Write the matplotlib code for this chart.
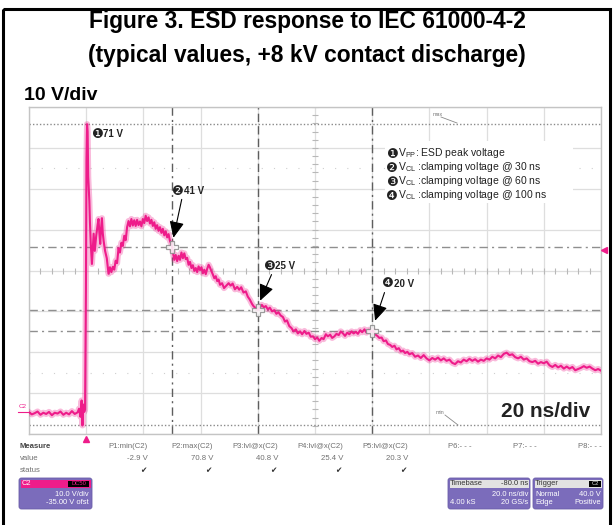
import numpy as np
import matplotlib
matplotlib.use("Agg")
import matplotlib.pyplot as plt
from matplotlib.patches import Rectangle, FancyBboxPatch

plt.rcParams["font.family"] = ["Liberation Sans", "DejaVu Sans"]
plt.rcParams["mathtext.fontset"] = "custom"
plt.rcParams["mathtext.rm"] = "Liberation Sans"

# scope screen: 20 ns/div, 10 V/div, offset -35 V
t_range = (-20, 180)
v_range = (-5, 75)

# ESD waveform (ns, V)
t_ns = [-20, -19, -18, -17, -16, -15, -14, -13, -12, -11, -10, -9, -8, -7, -6, -5, -4, -3,
        -2.5, -2.0, -1.6, -1.3, -1.0, -0.7, -0.4,
        -0.1, 0.1, 0.3, 0.5, 0.7, 0.9, 1.1, 1.3,
        1.6, 2.0, 2.3, 2.6, 3.0, 3.5, 4.0, 4.3, 4.6, 4.9, 5.2, 5.5, 5.8, 6.1, 6.6, 7.2, 7.8,
        8.3, 8.8, 9.3, 9.8, 10.3, 10.8, 11.3, 11.8, 12.3, 12.8, 13.3, 13.8, 14.3, 14.8,
        15.3, 15.8, 16.3, 16.8, 17.3, 17.8, 18.3, 18.8, 19.3, 19.8, 20.3, 20.8, 21.3, 21.8,
        22.3, 22.8, 23.3, 23.8, 24.3, 24.8, 25.3, 25.8, 26.3, 26.8, 27.3, 27.8, 28.3, 28.8,
        29.3, 29.8, 30.3, 30.8, 31.3, 31.8, 32.3, 32.8, 33.3, 33.8, 34.3, 34.8, 35.3, 35.8,
        36.3, 36.8, 37.3, 37.8, 38.3, 38.8, 39.3, 39.8, 40.3, 40.8, 41.3, 41.8, 42.3, 42.8,
        43.3, 43.8, 44.3, 44.8, 45.3, 45.8, 46.3, 46.8, 47.5, 48.2, 49.0, 49.8, 50.5, 51.2,
        52.0, 52.8, 53.5, 54.2, 55.0, 55.8, 56.5, 57.2, 58.0, 58.6, 59.3, 60.0, 60.7, 61.4,
        62.1, 62.8, 63.5, 64.2, 65.0, 65.8, 66.5, 67.2, 68.0, 68.8, 69.5, 70.2, 71.0, 71.8,
        72.5, 73.3, 74.0, 74.8, 75.5, 76.3, 77.0, 77.8, 78.5, 79.3, 80.0, 80.8, 81.5, 82.3,
        83.0, 83.8, 84.5, 85.3, 86.0, 86.8, 87.5, 88.3, 89.0, 89.8, 90.5, 91.3, 92.0, 92.8,
        93.5, 94.3, 95.0, 95.8, 96.5, 97.3, 98.0, 98.8, 99.5, 100.3, 101.0, 101.8, 102.5,
        103.3, 104.0, 104.8, 105.5, 106.3, 107.0, 107.8, 108.5, 109.3, 110.0, 110.8, 111.5,
        112.3, 113.0, 114, 115, 116, 117, 118, 119, 120, 121, 122, 123, 124, 125, 126, 127,
        128, 129, 130, 131, 132, 133, 134, 135, 136, 137, 138, 139, 140, 141, 142, 143, 144,
        145, 146, 147, 148, 149, 150, 151, 152, 153, 154, 155, 156, 157, 158, 159, 160, 161,
        162, 163, 164, 165, 166, 167, 168, 169, 170, 171, 172, 173, 174, 175, 176, 177, 178,
        179, 180]
v_trace = [0.3, -0.2, 0.1, 0.5, -0.3, 0.2, -0.1, 0.4, -0.4, 0.2, 0.0, 0.5, -0.3, 0.2, -0.2, 0.6, -0.1, 0.3,
           1.2, -0.8, 3.2, -2.9, 2.2, 0.4, 1.0,
           30.0, 62.0, 70.8, 69.0, 58.0, 55.0, 52.0, 47.0,
           41.5, 36.6, 40.5, 44.0, 39.8, 43.5, 46.2, 47.6, 44.2, 41.5, 45.3, 47.8, 44.1, 42.2, 39.8, 38.0, 34.2,
           35.8, 34.6, 35.9, 35.2, 37.4, 36.8, 40.5, 39.4, 41.8, 41.0, 43.5, 42.4, 45.6, 47.1,
           45.8, 47.6, 46.0, 47.3, 45.9, 47.4, 46.1, 47.0, 45.8, 47.6, 46.6, 48.4, 47.1, 48.0,
           46.5, 47.4, 45.9, 46.8, 45.2, 46.1, 44.7, 45.6, 44.2, 45.2, 43.6, 44.6, 43.1, 43.9,
           42.2, 41.5, 39.6, 37.6, 38.8, 37.3, 38.6, 37.6, 39.4, 38.0, 39.2, 37.8, 38.1, 36.4,
           37.1, 35.6, 36.3, 34.9, 35.6, 34.6, 36.0, 35.1, 35.8, 34.3, 35.2, 34.1, 35.4, 36.4,
           35.7, 34.8, 34.0, 33.1, 33.6, 32.4, 32.8, 31.5, 31.9, 30.7, 31.3, 31.9, 31.3, 31.8,
           30.4, 31.0, 30.3, 30.9, 29.6, 29.9, 28.6, 27.9, 26.8, 26.2, 25.8, 25.4, 25.9, 26.6,
           26.0, 26.3, 25.5, 25.9, 25.0, 25.3, 24.4, 24.8, 24.0, 23.6, 22.5, 22.8, 21.4, 20.9,
           20.1, 20.6, 19.6, 20.1, 19.4, 20.2, 19.5, 19.8, 18.8, 18.9, 18.2, 18.6, 17.8, 18.5,
           18.2, 19.4, 18.9, 19.3, 18.5, 18.9, 19.5, 19.2, 20.1, 19.6, 19.0, 19.8, 19.4, 20.1,
           19.6, 20.0, 19.5, 20.4, 19.9, 20.6, 19.8, 20.5, 20.0, 20.3, 19.4, 19.0, 18.5,
           18.6, 17.7, 17.9, 17.0, 16.8, 16.3, 16.6, 15.7, 16.0, 15.2, 15.4, 14.8,
           15.1, 14.5, 14.8, 13.9, 14.2, 13.6, 14.3, 13.5, 13.0, 13.6, 13.2, 13.7, 13.0, 13.5, 12.9, 13.2,
           12.4, 12.1, 12.8, 12.5, 13.2, 12.8, 13.4, 12.9, 13.3, 12.7, 13.2, 12.9, 13.5, 13.2, 13.9, 13.5, 14.2,
           13.8, 14.6, 14.9, 14.3, 14.5, 13.8, 13.5, 13.9, 13.2, 13.5, 12.8, 12.6, 12.9, 12.2, 12.6, 12.3, 12.7,
           11.8, 11.4, 11.9, 11.3, 11.7, 11.0, 11.5, 11.0, 11.4, 10.6, 10.9, 11.2, 11.6, 11.2, 11.5, 11.0, 10.6,
           10.9, 10.5]

# measurements P1..P5
v_min, v_max = -2.9, 70.8
cursor_t = [30, 60, 100]
cursor_v = [40.8, 25.4, 20.3]
point_marks = ["\u2776", "\u2777", "\u2778", "\u2779"]
point_labels = ["71 V", "41 V", "25 V", "20 V"]
trig_level = 40.0

meas_headers = ["P1:min(C2)", "P2:max(C2)", "P3:lvl@x(C2)", "P4:lvl@x(C2)", "P5:lvl@x(C2)"]
meas_values = ["-2.9 V", "70.8 V", "40.8 V", "25.4 V", "20.3 V"]

legend_lines = ["V$_{\\rm PP}$: ESD peak voltage",
                "V$_{\\rm CL}$ :clamping voltage @ 30 ns",
                "V$_{\\rm CL}$ :clamping voltage @ 60 ns",
                "V$_{\\rm CL}$ :clamping voltage @ 100 ns"]

PINK = "#ee1c8a"
PURPLE = "#7b6cbb"
GRID = "#dedede"

fig = plt.figure(figsize=(6.14, 5.25), dpi=100)
W, H = 614, 525

# ---- scope screen ----
ax = fig.add_axes([29 / W, (H - 434) / H, 572 / W, 327 / H], zorder=1)
ax.set_xlim(*t_range)
ax.set_ylim(*v_range)
ax.set_xticks(np.arange(-20, 181, 20))
ax.set_yticks(np.arange(-5, 76, 10))
ax.grid(True, color=GRID, lw=0.9)
ax.tick_params(length=0, labelbottom=False, labelleft=False)
for s in ax.spines.values():
    s.set_color("#c4c4c4")
    s.set_linewidth(1.0)

# centre graticule ticks
yt = np.arange(-5, 75.1, 2)
ax.plot(np.full(len(yt), 80), yt, ls="none", marker="_", ms=5, mew=0.8, color="#b8b8b8")
xt = np.arange(-20, 180.1, 4)
ax.plot(xt, np.full(len(xt), 35), ls="none", marker="|", ms=5, mew=0.8, color="#b8b8b8")
for lvl in (60, 10):
    ax.axhline(lvl, color="#cfcfcf", lw=0.8, ls=(0, (1, 10)))

# min / max dotted levels
for lvl in (v_min, v_max):
    ax.axhline(lvl, color="#8a8a8a", lw=1.0, ls=(0, (1, 1.5)))

# cursors
for lvl in cursor_v:
    ax.axhline(lvl, color="#8f8f8f", lw=1.0, ls=(0, (6, 3, 1.5, 3)))
ax.axvline(cursor_t[0], color="#5e5e5e", lw=1.0, ls=(0, (6, 3, 1.5, 3)))
ax.axvline(cursor_t[1], color="#5e5e5e", lw=1.0, ls=(0, (6, 3)))
ax.axvline(cursor_t[2], color="#5e5e5e", lw=1.0, ls=(0, (6, 3, 1.5, 3)))

# trace
ax.plot(t_ns, v_trace, color=PINK, lw=4.4, alpha=0.3, solid_joinstyle="round", zorder=3)
ax.plot(t_ns, v_trace, color=PINK, lw=1.5, zorder=4)

# cursor crosses
ax.plot(cursor_t, cursor_v, ls="none", marker="P", ms=9, mfc="white", mec="#8a8a8a",
        mew=0.9, alpha=0.85, zorder=5)

# trigger markers
ax.plot([0], [-6.3], marker="^", ms=5, color=PINK, clip_on=False, zorder=6)
ax.plot([181.2], [trig_level], marker="<", ms=5, color=PINK, clip_on=False, zorder=6)

# point labels with circled numbers
lab_xy = [(1.6, 68.3), (29.9, 54.4), (61.7, 36.1), (103.3, 31.7)]
for mark, lab, (lx, ly) in zip(point_marks, point_labels, lab_xy):
    ax.text(lx, ly, mark, ha="left", va="center", fontsize=9.5, family="DejaVu Sans",
            color="#222222", zorder=7)
    ax.annotate(lab, xy=(lx, ly), xytext=(9, 0), textcoords="offset points",
                ha="left", va="center", fontsize=7, fontweight="bold", color="#222222", zorder=7)

tail_xy = [(33.4, 52.4), (64.8, 34.0), (104.3, 29.6)]
tip_xy = [(30.5, 43.0), (60.8, 27.6), (101.0, 22.7)]
for tail, tip in zip(tail_xy, tip_xy):
    ax.annotate("", xy=tip, xytext=tail,
                arrowprops=dict(arrowstyle="-|>,head_length=1.0,head_width=0.45",
                                color="black", lw=0.8, shrinkA=0, shrinkB=0), zorder=7)

# ---- overlay in pixel coordinates ----
ov = fig.add_axes([0, 0, 1, 1], zorder=5)
ov.set_xlim(0, W)
ov.set_ylim(H, 0)
ov.axis("off")
ov.patch.set_alpha(0)

ov.add_patch(Rectangle((3, 8.5), 607, 540, fill=False, ec="black", lw=2.2))

ov.text(307, 28, "Figure 3. ESD response to IEC 61000-4-2", ha="center", va="baseline",
        fontsize=16.4, fontweight="bold")
ov.text(307, 62, "(typical values, +8 kV contact discharge)", ha="center", va="baseline",
        fontsize=16.4, fontweight="bold")
ov.text(24, 100, "10 V/div", ha="left", va="baseline", fontsize=14, fontweight="bold")
ov.text(590, 417, "20 ns/div", ha="right", va="baseline", fontsize=15, fontweight="bold",
        color="#222222")

# legend box
ov.add_patch(Rectangle((385, 141), 188, 62, fc="white", ec="none"))
for i, (mark, line) in enumerate(zip(point_marks, legend_lines)):
    ov.text(386, 154 + 14 * i, mark, ha="left", va="center", fontsize=9.5,
            family="DejaVu Sans", color="#222222")
    ov.text(398, 153 + 14 * i, line, ha="left", va="center", fontsize=7.5, color="#222222")

# max / min tags
small = dict(fontsize=3.8, color="#777777")
ov.text(433, 114, "max", ha="left", va="center", **small)
ov.plot([441, 457], [117, 123], color="#888888", lw=0.6)
ov.text(436, 412, "min", ha="left", va="center", **small)
ov.plot([445, 458], [415, 425], color="#888888", lw=0.6)

# channel tag
ov.text(19, 407, "C2", ha="left", va="center", fontsize=4.5, color=PINK)
ov.plot([18, 30], [411.5, 411.5], color=PINK, lw=0.8)

# measurement table
tcol = "#707070"
ov.text(20, 447, "Measure", ha="left", va="center", fontsize=5.6, fontweight="bold", color="#444444")
ov.text(20, 459, "value", ha="left", va="center", fontsize=5.6, color=tcol)
ov.text(20, 471, "status", ha="left", va="center", fontsize=5.6, color=tcol)
col_right = [148, 213, 278, 343, 408]
for xr, hd, val in zip(col_right, meas_headers, meas_values):
    ov.text(xr, 447, hd, ha="right", va="center", fontsize=5.6, color=tcol)
    ov.text(xr, 459, val, ha="right", va="center", fontsize=5.6, color=tcol)
    ov.text(xr - 2, 471, "\u2714", ha="right", va="center", fontsize=5.5, color="#333333",
            family="DejaVu Sans")
for xl, hd in zip([448, 513, 578], ["P6:- - -", "P7:- - -", "P8:- - -"]):
    ov.text(xl, 447, hd, ha="left", va="center", fontsize=5.6, color=tcol)


def info_box(x0, x1, top_fc):
    ov.add_patch(FancyBboxPatch((x0, 478), x1 - x0, 31, boxstyle="round,pad=0,rounding_size=2.5",
                                fc=PURPLE, ec="#6a5ca8", lw=0.6))
    ov.add_patch(Rectangle((x0 + 1.5, 479.5), x1 - x0 - 3, 8.5, fc=top_fc, ec="none"))


box_txt = dict(fontsize=5.4, va="center", color="white")
# C2 box
info_box(19, 92, PINK)
ov.text(22, 483.5, "C2", ha="left", **box_txt)
ov.add_patch(Rectangle((68, 480.5), 21, 6.5, fc="black", ec="none"))
ov.text(78.5, 483.7, "DC50", ha="center", fontsize=4.2, va="center", color=PINK)
ov.text(89, 494, "10.0 V/div", ha="right", **box_txt)
ov.text(89, 503, "-35.00 V ofst", ha="right", **box_txt)

# timebase box
info_box(448, 530, "#e2e2e2")
ov.text(450, 483.5, "Timebase", ha="left", fontsize=5.4, va="center", color="#333333")
ov.text(528, 483.5, "-80.0 ns", ha="right", fontsize=5.4, va="center", color="#333333")
ov.text(528, 494, "20.0 ns/div", ha="right", **box_txt)
ov.text(450, 503, "4.00 kS", ha="left", **box_txt)
ov.text(528, 503, "20 GS/s", ha="right", **box_txt)

# trigger box
info_box(533, 603, "#e2e2e2")
ov.text(535, 483.5, "Trigger", ha="left", fontsize=5.4, va="center", color="#333333")
ov.add_patch(Rectangle((589, 480.5), 12, 6.5, fc="black", ec="none"))
ov.text(595, 483.7, "C2", ha="center", fontsize=4.2, va="center", color="#dddddd")
ov.text(535, 494, "Normal", ha="left", **box_txt)
ov.text(601, 494, "40.0 V", ha="right", **box_txt)
ov.text(535, 503, "Edge", ha="left", **box_txt)
ov.text(601, 503, "Positive", ha="right", **box_txt)

fig.savefig("out.png", dpi=100)
